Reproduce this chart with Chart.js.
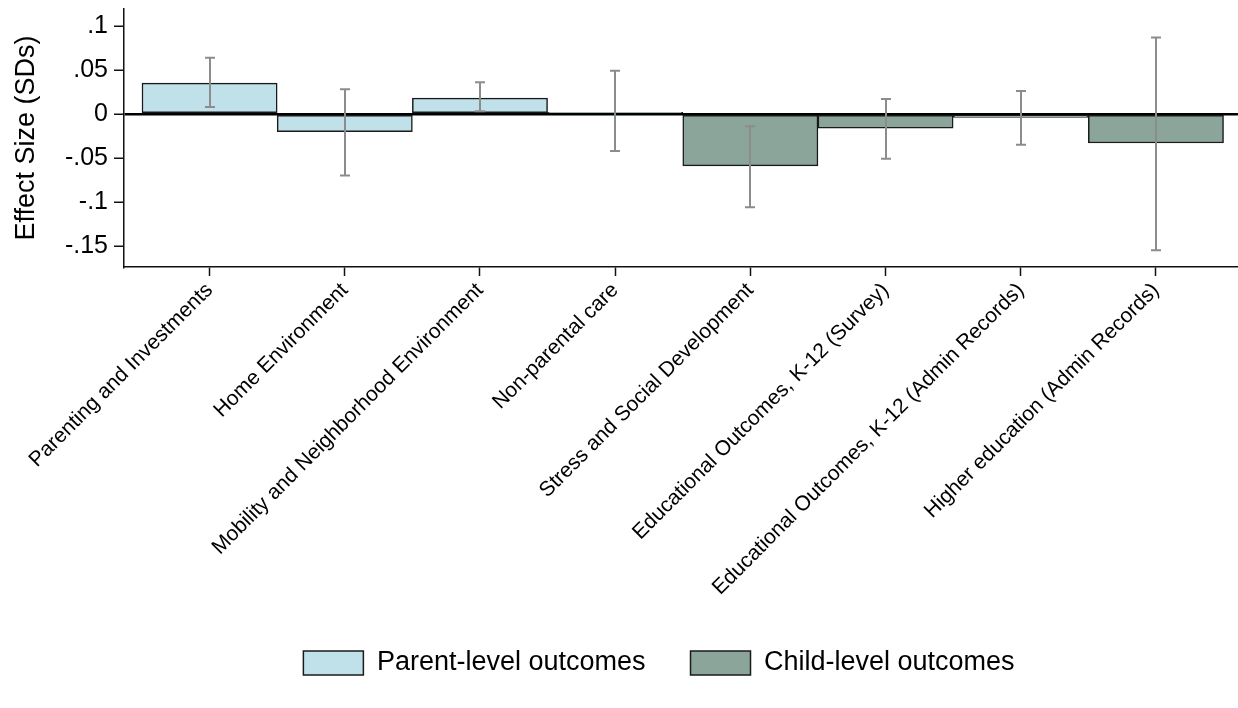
<!DOCTYPE html>
<html>
<head>
<meta charset="utf-8">
<script src="https://cdn.jsdelivr.net/npm/chart.js@4/dist/chart.umd.min.js"></script>
<style>
  html, body { margin: 0; padding: 0; background: #fff; }
  #wrap { width: 1238px; height: 708px; position: relative; }
</style>
</head>
<body>
<div id="wrap"><canvas id="c" width="1238" height="708"></canvas></div>
<script>
const categories = [
  "Parenting and Investments",
  "Home Environment",
  "Mobility and Neighborhood Environment",
  "Non-parental care",
  "Stress and Social Development",
  "Educational Outcomes, K-12 (Survey)",
  "Educational Outcomes, K-12 (Admin Records)",
  "Higher education (Admin Records)"
];
const groups = ["parent", "parent", "parent", "parent", "child", "child", "child", "child"];
const effects = [0.035, -0.020, 0.018, 0.002, -0.059, -0.016, -0.004, -0.033];
const ciLow  = [0.008, -0.070, 0.003, -0.042, -0.106, -0.051, -0.035, -0.155];
const ciHigh = [0.064,  0.028, 0.036,  0.049, -0.014,  0.017,  0.026,  0.087];
const yTicks = [-0.15, -0.1, -0.05, 0, 0.05, 0.1];
const seriesNames = { parent: "Parent-level outcomes", child: "Child-level outcomes" };

const FONT = "'Liberation Sans', Arial, Helvetica, sans-serif";

function pointsFor(g) {
  const out = [];
  effects.forEach((v, i) => { if (groups[i] === g) out.push({ x: i, y: v }); });
  return out;
}

const errorBars = {
  id: 'errorBars',
  afterDatasetsDraw(chart) {
    const { ctx, scales: { x, y } } = chart;
    ctx.save();
    ctx.strokeStyle = '#8c8c8c';
    ctx.lineWidth = 2;
    ctx.lineCap = 'butt';
    for (let i = 0; i < categories.length; i++) {
      const px = Math.round(x.getPixelForValue(i));
      const y1 = y.getPixelForValue(ciLow[i]);
      const y2 = y.getPixelForValue(ciHigh[i]);
      ctx.beginPath();
      ctx.moveTo(px, y1); ctx.lineTo(px, y2);
      ctx.moveTo(px - 5, y1); ctx.lineTo(px + 5, y1);
      ctx.moveTo(px - 5, y2); ctx.lineTo(px + 5, y2);
      ctx.stroke();
    }
    ctx.restore();
  }
};

const shiftLegend = {
  id: 'shiftLegend',
  afterLayout(chart) {
    const lg = chart.legend;
    if (lg) { lg.left += 40; lg.right += 40; }
  }
};

new Chart(document.getElementById('c'), {
  type: 'bar',
  data: {
    datasets: [
      {
        label: seriesNames.parent,
        data: pointsFor('parent'),
        backgroundColor: '#c0e0ea',
        borderColor: '#1a1a1a',
        borderWidth: 1.5,
        borderSkipped: false,
        barPercentage: 1,
        categoryPercentage: 1
      },
      {
        label: seriesNames.child,
        data: pointsFor('child'),
        backgroundColor: '#8ca59b',
        borderColor: '#1a1a1a',
        borderWidth: 1.5,
        borderSkipped: false,
        barPercentage: 1,
        categoryPercentage: 1
      }
    ]
  },
  options: {
    responsive: false,
    animation: false,
    layout: { padding: { top: 9, right: 0, left: 0, bottom: 21.5 } },
    scales: {
      x: {
        type: 'linear',
        stacked: true,
        offset: false,
        min: -0.633,
        max: 7.607,
        afterBuildTicks(scale) {
          scale.ticks = categories.map((c, i) => ({ value: i }));
        },
        afterFit(scale) {
          scale.height = 337.5;
          scale.paddingLeft = 0; scale.paddingRight = 0;
        },
        ticks: {
          autoSkip: false,
          minRotation: 45,
          maxRotation: 45,
          padding: 2,
          color: '#000',
          font: { family: FONT, size: 21 },
          callback: (v) => categories[v]
        },
        grid: {
          offset: false,
          drawOnChartArea: false,
          drawTicks: true,
          tickLength: 9,
          tickColor: '#111',
          tickWidth: 1.5
        },
        border: { display: true, color: '#111', width: 1.5 }
      },
      y: {
        min: -0.1739,
        max: 0.1193,
        afterBuildTicks(scale) {
          scale.ticks = yTicks.map(v => ({ value: v }));
        },
        afterFit(scale) {
          scale.width = 124;
          scale.paddingTop = 0; scale.paddingBottom = 0;
        },
        ticks: {
          padding: 6,
          color: '#000',
          font: { family: FONT, size: 25 },
          callback: (v) => {
            if (Math.abs(v) < 1e-9) return '0';
            let s = String(+v.toFixed(3));
            return s.replace('0.', '.');
          }
        },
        grid: {
          drawOnChartArea: true,
          color: (c) => (c.tick && Math.abs(c.tick.value) < 1e-9 ? '#000' : 'rgba(0,0,0,0)'),
          lineWidth: 2.5,
          drawTicks: true,
          tickLength: 10,
          tickColor: '#111',
          tickWidth: 1.5
        },
        border: { display: true, color: '#111', width: 1.5 },
        title: {
          display: true,
          text: 'Effect Size (SDs)',
          color: '#000',
          font: { family: FONT, size: 27 },
          padding: { top: 10, bottom: 0 }
        }
      }
    },
    plugins: {
      legend: {
        position: 'bottom',
        labels: {
          boxWidth: 60,
          boxHeight: 24,
          padding: 45,
          color: '#000',
          font: { family: FONT, size: 27 }
        }
      },
      tooltip: { enabled: false }
    }
  },
  plugins: [errorBars, shiftLegend]
});
</script>
</body>
</html>
